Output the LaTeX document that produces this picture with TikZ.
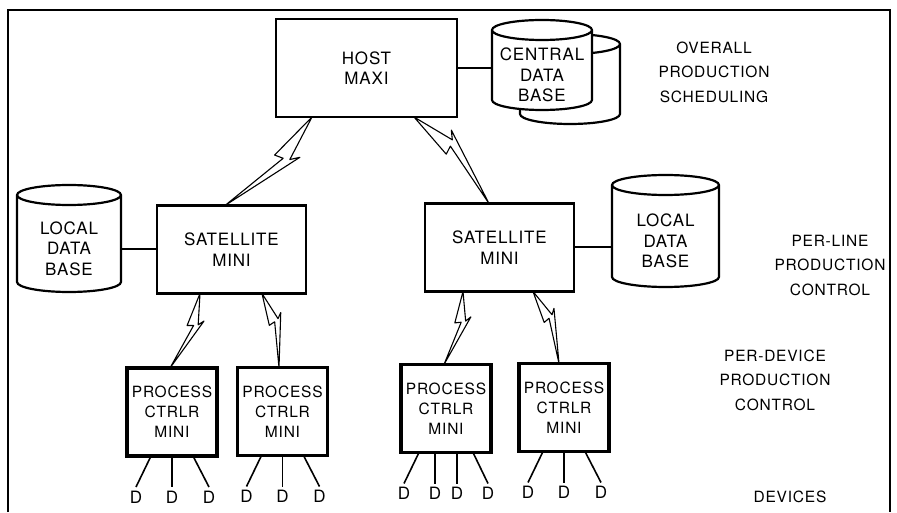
\documentclass[tikz,border=0pt]{standalone}
\usepackage{fontspec}
\newfontfamily\diagfont{TeX Gyre Heros}[LetterSpace=5]
\usetikzlibrary{positioning, calc, backgrounds}

% disc drum drawn round a named node
\newcommand{\drum}[2]{%
  \draw[dbline] ([yshift=10pt]#1.north west) -- ([yshift=10pt]#1.south west)
    arc[start angle=180, end angle=360, x radius=#2pt, y radius=10pt]
    -- ([yshift=10pt]#1.north east)
    arc[start angle=0, end angle=360, x radius=#2pt, y radius=10pt];}

% lightning-bolt data link between two border points
\newcommand{\radiolink}[3]{%
  \coordinate (lk-a) at (#1);
  \coordinate (lk-b) at (#2);
  \draw[bolt] (lk-a) -- ($(lk-a)!0.43!(lk-b)$)
    -- ($(lk-a)!0.40!(lk-b)!{0.6*#3}!90:(lk-b)$) -- (lk-b)
    -- ($(lk-a)!0.30!(lk-b)!{1.4*#3}!90:(lk-b)$)
    -- ($(lk-a)!0.37!(lk-b)!#3!90:(lk-b)$) -- cycle;}

\begin{document}
\begin{tikzpicture}[
      x=1pt, y=1pt,
      every node/.style = {font=\diagfont\fontsize{17}{20.5}\selectfont, inner sep=0pt, outer sep=0pt},
      maxi/.style = {draw, line width=2.6pt, minimum width=181pt, minimum height=98pt, align=center},
      mini/.style = {draw, line width=2.8pt, minimum width=149pt, minimum height=88pt, align=center},
      ctrlr/.style = {draw, line width=3.2pt, minimum width=90pt, minimum height=88pt, align=center,
                      font=\diagfont\fontsize{15.5}{20}\selectfont},
      store/.style = {align=center},
      level/.style = {align=center, font=\diagfont\fontsize{15.5}{24.5}\selectfont},
      dev/.style = {inner sep=4pt},
      dbline/.style = {line width=2.2pt, fill=white},
      wire/.style = {line width=2pt},
      lead/.style = {line width=1.6pt},
      bolt/.style = {line width=1.1pt, line join=round},
      rim/.style = {line width=1.6pt}
    ]
    \useasboundingbox (0,0) rectangle (897,512);
    \draw[rim] (8,0) -- (8,502) -- (890,502) -- (890,0);

    \node[maxi] (host) at (366.5,444) {HOST\\MAXI};
    \node[store, minimum width=100pt, minimum height=70pt, right=35pt of host, yshift=-7pt] (cdb) {CENTRAL\\DATA\\BASE};
    \node[store, minimum width=100pt, minimum height=70pt] (cdbback) at ([shift={(28,-14)}]cdb.center) {};
    \node[mini] (lsat) at (231.5,262.5) {SATELLITE\\MINI};
    \node[mini] (rsat) at (499.5,264.5) {SATELLITE\\MINI};
    \node[store, minimum width=104pt, minimum height=87pt, left=36pt of lsat, yshift=1pt] (ldb) {LOCAL\\DATA\\BASE};
    \node[store, minimum width=107pt, minimum height=92pt, right=38pt of rsat, yshift=6.5pt] (rdb) {LOCAL\\DATA\\BASE};
    \node[ctrlr] (p1) at (172,100)     {PROCESS\\CTRLR\\MINI};
    \node[ctrlr] (p2) at (282.5,100.5) {PROCESS\\CTRLR\\MINI};
    \node[ctrlr] (p3) at (446,103.5)   {PROCESS\\CTRLR\\MINI};
    \node[ctrlr] (p4) at (564,104.5)   {PROCESS\\CTRLR\\MINI};

    \node[level] (sched)   at (714,440) {OVERALL\\PRODUCTION\\SCHEDULING};
    \node[level] (perline) at (830,247) {PER-LINE\\PRODUCTION\\CONTROL};
    \node[level] (perdev)  at (775,132) {PER-DEVICE\\PRODUCTION\\CONTROL};
    \node[level] (devices) at (790,15)  {DEVICES};

    \begin{scope}[on background layer]
      \drum{cdbback}{50}
      \drum{cdb}{50}
      \drum{ldb}{52}
      \drum{rdb}{53.5}
    \end{scope}

    \draw[wire] (host.east) -- (host.east -| cdb.west);
    \draw[wire] (lsat.west) -- (lsat.west -| ldb.east);
    \draw[wire] (rsat.east) -- (rsat.east -| rdb.west);

    \radiolink{[xshift=-54.5pt]host.south}{[xshift=-6.5pt]lsat.north}{14pt}
    \radiolink{[xshift=47.5pt]host.south}{[xshift=-10.5pt]rsat.north}{14pt}
    \radiolink{[xshift=-31.5pt]lsat.south}{[xshift=-2pt]p1.north}{10pt}
    \radiolink{[xshift=30.5pt]lsat.south}{[xshift=-3.5pt]p2.north}{10pt}
    \radiolink{[xshift=-36.5pt]rsat.south}{[xshift=-2pt]p3.north}{10pt}
    \radiolink{[xshift=33.5pt]rsat.south}{[xshift=-5pt]p4.north}{10pt}

    \node[dev, below=31pt of p1, xshift=-36pt] (d11) {D};
    \node[dev, below=31pt of p1]               (d12) {D};
    \node[dev, below=31pt of p1, xshift=37pt]  (d13) {D};
    \node[dev, below=31pt of p2, xshift=-36pt] (d21) {D};
    \node[dev, below=31pt of p2]               (d22) {D};
    \node[dev, below=31pt of p2, xshift=37pt]  (d23) {D};
    \node[dev, below=31pt of p3, xshift=-42pt] (d31) {D};
    \node[dev, below=31pt of p3, xshift=-11pt] (d32) {D};
    \node[dev, below=31pt of p3, xshift=11pt]  (d33) {D};
    \node[dev, below=31pt of p3, xshift=42pt]  (d34) {D};
    \node[dev, below=31pt of p4, xshift=-36pt] (d41) {D};
    \node[dev, below=31pt of p4]               (d42) {D};
    \node[dev, below=31pt of p4, xshift=37pt]  (d43) {D};
    \draw[lead] ([xshift=-21pt]p1.south) -- (d11.north);
    \draw[lead] (p1.south)               -- (d12.north);
    \draw[lead] ([xshift=21pt]p1.south)  -- (d13.north);
    \draw[lead] ([xshift=-21pt]p2.south) -- (d21.north);
    \draw[lead] (p2.south)               -- (d22.north);
    \draw[lead] ([xshift=21pt]p2.south)  -- (d23.north);
    \draw[lead] ([xshift=-27pt]p3.south) -- (d31.north);
    \draw[lead] ([xshift=-11pt]p3.south) -- (d32.north);
    \draw[lead] ([xshift=11pt]p3.south)  -- (d33.north);
    \draw[lead] ([xshift=27pt]p3.south)  -- (d34.north);
    \draw[lead] ([xshift=-21pt]p4.south) -- (d41.north);
    \draw[lead] (p4.south)               -- (d42.north);
    \draw[lead] ([xshift=21pt]p4.south)  -- (d43.north);
  \end{tikzpicture}
\end{document}
